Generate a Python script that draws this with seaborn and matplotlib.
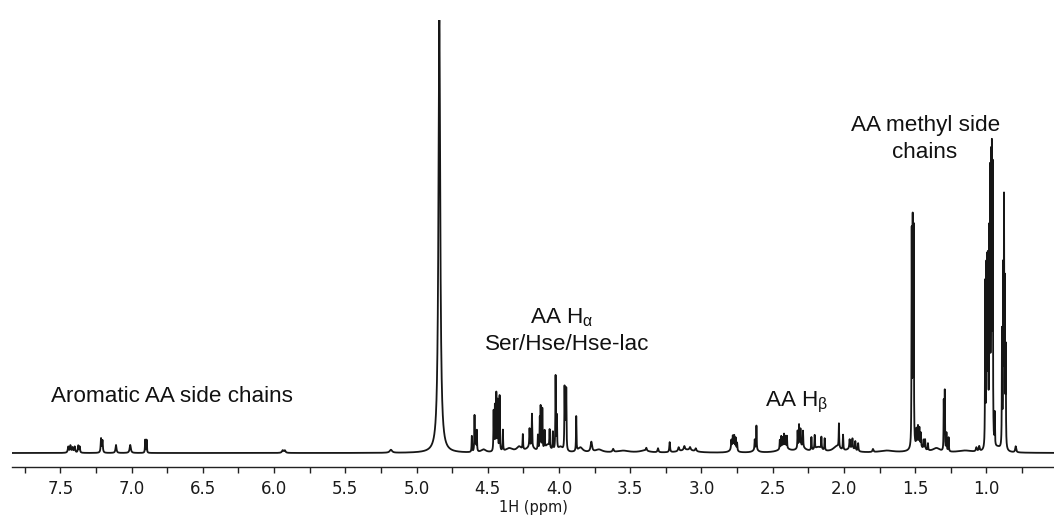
import numpy as np
import pandas as pd
import matplotlib
matplotlib.use("Agg")
import matplotlib.pyplot as plt
from matplotlib.ticker import MultipleLocator
import seaborn as sns

# ---- peak list (shift in ppm, height in arbitrary units, half-width in ppm)
arom_shift = [7.445, 7.430, 7.415, 7.400, 7.375, 7.365, 7.215, 7.205, 7.110, 7.010, 6.905, 6.895,
              5.940, 5.925, 5.180]
arom_height = [6, 7, 5, 6, 7, 6, 14, 12, 8, 8, 13, 13, 2.5, 2.5, 3]
arom_width = [0.004, 0.004, 0.004, 0.004, 0.003, 0.003, 0.003, 0.003, 0.004, 0.005, 0.002, 0.002,
              0.006, 0.006, 0.010]

water_shift = [4.84]
water_height = [433]
water_width = [0.0075]

halpha_shift = [4.612, 4.593, 4.585, 4.577, 4.459, 4.450, 4.440, 4.430, 4.417, 4.394, 4.254, 4.207,
                4.190, 4.148, 4.135, 4.129, 4.117, 4.101, 4.066, 4.043, 4.024, 4.015, 3.961, 3.955,
                3.949, 3.879, 3.773, 3.620, 3.387]
halpha_height = [16, 36, 18, 21, 40, 45, 57, 50, 56, 21, 15, 18,
                 33, 15, 30, 42, 41, 18, 18, 18, 75, 33, 60, 50,
                 59, 35, 10, 3, 3]
halpha_width = [0.0018, 0.0018, 0.0018, 0.0018, 0.0018, 0.0018, 0.0018, 0.0018, 0.0018, 0.0018, 0.002, 0.002,
                0.0018, 0.002, 0.0018, 0.0018, 0.0018, 0.002, 0.002, 0.002, 0.0018, 0.0018, 0.0018, 0.0018,
                0.0018, 0.0018, 0.006, 0.005, 0.004]

hbeta_shift = [3.305, 3.223, 3.160, 3.120, 3.080, 3.040, 2.790, 2.780, 2.770, 2.760, 2.750,
               2.626, 2.614, 2.450, 2.440, 2.430, 2.420, 2.410, 2.400, 2.325, 2.315, 2.305,
               2.287, 2.228, 2.205, 2.158, 2.135, 2.035, 2.006, 1.960, 1.940, 1.920, 1.900, 1.796]
hbeta_height = [4, 10, 4, 4, 3, 3, 9, 12, 13, 12, 8,
                10, 24, 9, 12, 10, 13, 11, 12, 17, 22, 17,
                16, 13, 14, 12, 12, 24, 15, 9, 10, 9, 8, 3]
hbeta_width = [0.004, 0.003, 0.005, 0.005, 0.005, 0.005, 0.0025, 0.0025, 0.0025, 0.0025, 0.0025,
               0.002, 0.0018, 0.0018, 0.0018, 0.0018, 0.0018, 0.0018, 0.0018, 0.0018, 0.0018, 0.0018,
               0.0018, 0.002, 0.002, 0.002, 0.002, 0.0018, 0.002, 0.0025, 0.0025, 0.0025, 0.0025, 0.004]

methyl_shift = [1.524, 1.517, 1.510, 1.490, 1.480, 1.470, 1.460, 1.440, 1.430, 1.410,
                1.299, 1.292, 1.280, 1.265, 1.070, 1.050,
                1.008, 1.000, 0.994, 0.988, 0.980, 0.974, 0.967, 0.961, 0.955, 0.941,
                0.890, 0.882, 0.876, 0.870, 0.864, 0.794]
methyl_height = [214, 218, 214, 16, 19, 18, 14, 9, 10, 7,
                 50, 60, 18, 14, 4, 5,
                 165, 170, 172, 175, 200, 258, 268, 275, 268, 32,
                 115, 170, 237, 155, 95, 6]
methyl_width = [0.0015, 0.0015, 0.0015, 0.002, 0.002, 0.002, 0.002, 0.002, 0.002, 0.002,
                0.0015, 0.0015, 0.002, 0.002, 0.004, 0.004,
                0.0015, 0.0015, 0.0015, 0.0015, 0.0015, 0.0015, 0.0015, 0.0015, 0.0015, 0.0015,
                0.0015, 0.0015, 0.0015, 0.0015, 0.0015, 0.004]

# broad underlying envelopes (rolling baseline)
hump_shift = [4.53, 4.35, 4.28, 4.20, 4.08, 3.99, 3.85, 3.72, 3.55, 3.40, 3.10,
              2.78, 2.62, 2.42, 2.30, 2.18, 2.05, 1.95, 1.70, 1.48, 1.35, 1.15, 0.92]
hump_height = [3, 4, 5, 6, 7, 5, 5, 3, 2, 2, 3,
               4, 3, 5, 6, 5, 6, 4, 2, 6, 4, 2, 4]
hump_width = [0.02, 0.03, 0.02, 0.03, 0.02, 0.02, 0.02, 0.03, 0.05, 0.04, 0.06,
              0.02, 0.02, 0.04, 0.03, 0.03, 0.03, 0.03, 0.06, 0.04, 0.03, 0.06, 0.03]

tick_values = [7.5, 7.0, 6.5, 6.0, 5.5, 5.0, 4.5, 4.0, 3.5, 3.0, 2.5, 2.0, 1.5, 1.0]

shifts = np.array(arom_shift + water_shift + halpha_shift + hbeta_shift + methyl_shift + hump_shift)
heights = np.array(arom_height + water_height + halpha_height + hbeta_height + methyl_height + hump_height,
                   dtype=float)
widths = np.array(arom_width + water_width + halpha_width + hbeta_width + methyl_width + hump_width)

ppm = np.linspace(7.84, 0.52, 16000)
spec = np.zeros_like(ppm)
for s, h, w in zip(shifts, heights, widths):
    spec += h * w**2 / (w**2 + (ppm - s) ** 2)

df = pd.DataFrame({"ppm": ppm, "intensity": spec})

sns.set_theme(style="white")
plt.rcParams["font.family"] = ["DejaVu Sans"]

fig = plt.figure(figsize=(10.54, 5.21), dpi=100)
ax = fig.add_axes([12 / 1054, 54 / 521, 1 - 12 / 1054, (467 - 20) / 521])

sns.lineplot(data=df, x="ppm", y="intensity", ax=ax, color="#161616", linewidth=1.3,
             sort=False, estimator=None)

ymax = spec.max()
ax.set_ylim(-ymax * 14 / 433, ymax)
ax.set_xlim(7.84, 0.525)

for sp in ["top", "left", "right"]:
    ax.spines[sp].set_visible(False)
ax.spines["bottom"].set_color("#222222")
ax.spines["bottom"].set_linewidth(1.0)
ax.set_yticks([])
ax.set_ylabel("")
ax.set_xticks(tick_values)
ax.set_xticklabels([f"{v:.1f}" for v in tick_values])
ax.xaxis.set_minor_locator(MultipleLocator(0.25))
ax.tick_params(axis="x", which="major", direction="out", length=4, width=1, color="#222222",
               labelsize=12, labelcolor="#1a1a1a", pad=5, bottom=True)
ax.tick_params(axis="x", which="minor", direction="out", length=4, width=1, color="#222222", bottom=True)
ax.set_xlabel("1H (ppm)", fontsize=10.5, labelpad=2, color="#1a1a1a")
ax.grid(False)

plt.rcParams["mathtext.fontset"] = "custom"
plt.rcParams["mathtext.rm"] = "Liberation Sans"
plt.rcParams["mathtext.it"] = "Liberation Sans"

ann = dict(family="Liberation Sans", fontsize=16.2, color="#111111", ha="center", va="center")
fx = lambda px: px / 1054
fy = lambda py: 1 - py / 521
fig.text(fx(172), fy(397), "Aromatic AA side chains", **ann)
fig.text(fx(562), fy(318), r"AA H$_{\mathrm{α}}$", **ann)
fig.text(fx(567), fy(345), "Ser/Hse/Hse-lac", **ann)
fig.text(fx(797), fy(402), r"AA H$_{\mathrm{β}}$", **ann)
fig.text(fx(926), fy(125), "AA methyl side", **ann)
fig.text(fx(925), fy(153), "chains", **ann)

fig.savefig("out.png", dpi=100)
